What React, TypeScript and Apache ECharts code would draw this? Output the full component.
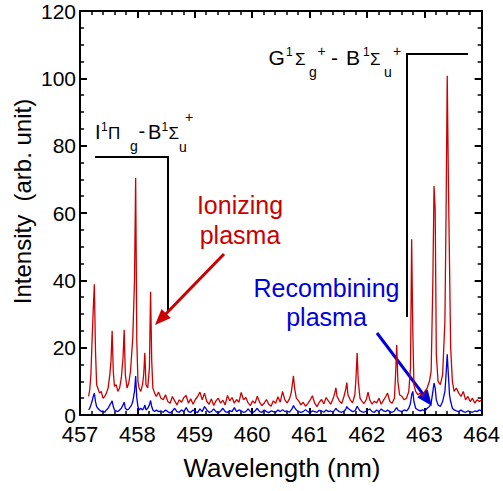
import React, { useEffect, useRef } from "react";
import * as echarts from "echarts";

// Wavelength grid (nm)
const wavelength = [
  // 457.15 - 458.30
  457.15, 457.17, 457.19, 457.21, 457.23, 457.25, 457.27, 457.29, 457.31, 457.34,
  457.37, 457.40, 457.43, 457.46, 457.49, 457.52, 457.54, 457.56, 457.58, 457.60,
  457.63, 457.66, 457.69, 457.72, 457.75, 457.77, 457.79, 457.82, 457.85, 457.88,
  457.90, 457.92, 457.95, 457.97, 457.99, 458.01, 458.03, 458.06, 458.09, 458.11,
  458.13, 458.15, 458.18, 458.21, 458.23, 458.25, 458.27, 458.30,
  // 458.33 - 460.65
  458.33, 458.37, 458.41, 458.45, 458.49, 458.53, 458.57, 458.61, 458.65, 458.69,
  458.73, 458.77, 458.81, 458.85, 458.89, 458.93, 458.97, 459.01, 459.05, 459.09,
  459.13, 459.17, 459.21, 459.25, 459.29, 459.33, 459.37, 459.41, 459.45, 459.49,
  459.53, 459.57, 459.61, 459.65, 459.69, 459.73, 459.77, 459.81, 459.85, 459.89,
  459.93, 459.97, 460.01, 460.05, 460.09, 460.13, 460.17, 460.21, 460.25, 460.29,
  460.33, 460.37, 460.41, 460.45, 460.49, 460.53, 460.57, 460.61, 460.65,
  // 460.68 - 462.48
  460.68, 460.70, 460.72, 460.74, 460.77, 460.81, 460.85, 460.89, 460.93, 460.97,
  461.01, 461.05, 461.09, 461.13, 461.17, 461.21, 461.25, 461.29, 461.33, 461.37,
  461.41, 461.44, 461.46, 461.48, 461.52, 461.56, 461.60, 461.63, 461.65, 461.67,
  461.71, 461.75, 461.79, 461.81, 461.83, 461.85, 461.88, 461.91, 461.95, 461.99,
  462.02, 462.05, 462.09, 462.13, 462.17, 462.21, 462.25, 462.29, 462.33, 462.36,
  462.40, 462.44, 462.48,
  // 462.50 - 464.00
  462.50, 462.52, 462.54, 462.57, 462.61, 462.65, 462.69, 462.73, 462.76, 462.78,
  462.80, 462.82, 462.85, 462.89, 462.93, 462.97, 463.01, 463.05, 463.09, 463.12,
  463.15, 463.17, 463.19, 463.21, 463.24, 463.28, 463.32, 463.36, 463.38, 463.40,
  463.42, 463.44, 463.46, 463.49, 463.52, 463.56, 463.60, 463.64, 463.68, 463.72,
  463.76, 463.80, 463.84, 463.88, 463.92, 463.96, 464.00,
];

// Ionizing plasma intensity (arb. unit)
const ionizing = [
  5.5, 7.5, 12, 22, 31, 38.8, 19, 9, 8, 6.5,
  7, 5, 5.5, 6.5, 8, 12, 16, 25, 13, 8.5,
  9, 7, 8, 11, 17, 25.3, 12, 8, 9.5, 13,
  18, 23, 40, 70.4, 22, 10, 8, 7, 9, 12,
  18.5, 9, 8, 14, 36.6, 16, 8, 6.5,
  5.5, 6.8, 5, 4.5, 6, 4, 3.5, 5.5, 4.2, 3,
  4.5, 3.8, 5.2, 5.8, 3.5, 4.8, 3.2, 4.6, 5.5, 6.8,
  4.5, 6.5, 4, 3.2, 4.8, 2.8, 4.2, 5, 3.5, 4.4,
  3, 5.8, 4.2, 5.2, 3.5, 4.6, 3.8, 6.7, 4.5, 5.2,
  3.6, 2.8, 4.2, 3.5, 5.6, 3.8, 2.8, 3.5, 4.6, 3.2,
  2.6, 4.2, 3.5, 5.4, 3.8, 7, 4.5, 3.6, 4.8,
  6.5, 9, 11.6, 8, 5, 4.2, 3, 3.8, 2.6, 3.4,
  4.4, 5.7, 3.5, 2.5, 3.8, 4.6, 3.3, 5.2, 4.1, 3.2,
  4.8, 6.5, 8.1, 5.5, 4.2, 3.4, 5.5, 7.5, 9.6, 6,
  4.5, 3.6, 6, 11, 18.4, 10, 5, 4.2, 3.4, 4.6,
  6.8, 4.5, 3.2, 4.1, 3.6, 5, 3.2, 4.4, 5.5, 6.5,
  4, 3.5, 5,
  12, 20.8, 10, 6, 5.5, 4.5, 5, 7, 14, 52.2,
  25, 9, 7, 6, 6.5, 5.5, 7, 8, 10, 13,
  40, 68, 61, 18, 10, 9, 12, 28, 60, 100.8,
  70, 45, 20, 10, 7, 8, 6.5, 5.5, 7, 4.5,
  5.5, 4, 5, 3.5, 4.5, 4, 4.5,
];

// Recombining plasma intensity (arb. unit)
const recombining = [
  1.5, 2, 3, 4, 5.5, 6.5, 4, 2.5, 2, 1.5,
  1, 1.2, 0.8, 1.5, 2, 3, 3.5, 4.2, 2.5, 1.5,
  1.2, 1, 1.5, 2, 3, 3.8, 2, 1.5, 1.8, 2.5,
  3, 4, 7, 11.6, 5, 2.5, 1.5, 2, 1.5, 2,
  3, 1.5, 2, 3, 4.3, 2.5, 1.5, 1,
  1.5, 1, 1.2, 0.8, 1.5, 1, 0.6, 1.2, 2, 1,
  0.8, 1.5, 1, 2.2, 1, 0.8, 1.5, 1, 0.7, 1.8,
  1, 2.5, 1.5, 0.8, 1, 1.8, 1, 0.6, 1.2, 2,
  1, 0.8, 1.3, 1, 2.2, 1, 1.5, 1.2, 0.8, 1,
  1.8, 1, 0.7, 1.2, 2, 1, 0.8, 1.5, 1, 0.7,
  1.2, 1, 0.8, 1.5, 1, 1.6, 1, 1.2, 0.8,
  1.5, 2, 2.8, 2.2, 1.5, 1, 0.8, 1, 1.6, 1,
  0.7, 1.2, 1, 0.8, 1.4, 1.2, 0.8, 1.5, 1, 1.2,
  0.8, 1.5, 2, 1.5, 1, 0.8, 1.2, 1.6, 2.5, 2,
  1.5, 1, 1.2, 1.8, 2.6, 2, 1.2, 1, 0.8, 1.2,
  1.5, 1.8, 1, 0.8, 1.5, 1, 1.8, 1.2, 1, 1.5,
  1, 0.8, 1.2,
  1.8, 2.2, 1.5, 1.2, 1, 1.5, 1.2, 2, 3.5, 6,
  7, 4, 2, 1.5, 1.2, 1.5, 1.2, 2, 2.5, 3.5,
  7, 9.5, 8, 4.5, 3, 2.5, 4, 7, 12, 18,
  12, 6, 4, 2, 1.5, 1.2, 1, 1.5, 1, 0.8,
  1.2, 1, 0.8, 1.2, 1, 1.5, 1.2,
];

const xRange = [457, 464];
const yRange = [0, 120];

const FONT = "'Liberation Sans', Arial, Helvetica, sans-serif";
const RED = "#cc0000";
const BLUE = "#0000dd";

function txt(text: string, x: number, y: number, size: number, color = "#000", align = "left", extra: any = {}) {
  return {
    type: "text",
    x,
    y,
    silent: true,
    ...extra,
    style: {
      text,
      fontSize: size,
      fontFamily: FONT,
      fill: color,
      align,
      textAlign: align,
      verticalAlign: "middle",
      textVerticalAlign: "middle",
    },
  };
}

function arrow(x1: number, y1: number, x2: number, y2: number, color: string) {
  const dx = x2 - x1;
  const dy = y2 - y1;
  const L = Math.hypot(dx, dy);
  const ux = dx / L;
  const uy = dy / L;
  const head = 16;
  const hw = 6.5;
  const bx = x2 - ux * head;
  const by = y2 - uy * head;
  return [
    {
      type: "line",
      silent: true,
      shape: { x1, y1, x2: bx + ux * 3, y2: by + uy * 3 },
      style: { stroke: color, lineWidth: 3 },
    },
    {
      type: "polygon",
      silent: true,
      shape: {
        points: [
          [x2, y2],
          [bx - uy * hw, by + ux * hw],
          [bx + uy * hw, by - ux * hw],
        ],
      },
      style: { fill: color },
    },
  ];
}

export default function App() {
  const ref = useRef<HTMLDivElement>(null);

  useEffect(() => {
    if (!ref.current) return;
    const chart = echarts.init(ref.current, undefined, { renderer: "svg" });

    const axisCommon = {
      type: "value",
      splitLine: { show: false },
      axisLine: { show: true, onZero: false, lineStyle: { color: "#000", width: 2 } },
      axisTick: { show: true, inside: true, length: 7, lineStyle: { color: "#000", width: 2 } },
    };

    const option: any = {
      animation: false,
      backgroundColor: "#fff",
      grid: { left: 80, right: 19, top: 11, bottom: 76, containLabel: false },
      xAxis: [
        {
          ...axisCommon,
          position: "bottom",
          min: xRange[0],
          max: xRange[1],
          interval: 1,
          minorTick: { show: true, splitNumber: 5, length: 4, lineStyle: { color: "#000", width: 1.5 } },
          axisLabel: { fontSize: 22, fontFamily: FONT, color: "#000", margin: 8 },
        },
        {
          ...axisCommon,
          position: "top",
          min: xRange[0],
          max: xRange[1],
          interval: 1,
          minorTick: { show: true, splitNumber: 5, length: 4, lineStyle: { color: "#000", width: 1.5 } },
          axisLabel: { show: false },
        },
      ],
      yAxis: [
        {
          ...axisCommon,
          position: "left",
          min: yRange[0],
          max: yRange[1],
          interval: 20,
          minorTick: { show: true, splitNumber: 4, length: 4, lineStyle: { color: "#000", width: 1.5 } },
          axisLabel: { fontSize: 21, fontFamily: FONT, color: "#000", margin: 4 },
        },
        {
          ...axisCommon,
          position: "right",
          min: yRange[0],
          max: yRange[1],
          interval: 20,
          minorTick: { show: true, splitNumber: 4, length: 4, lineStyle: { color: "#000", width: 1.5 } },
          axisLabel: { show: false },
        },
      ],
      series: [
        {
          name: "Ionizing plasma",
          type: "line",
          xAxisIndex: 0,
          yAxisIndex: 0,
          showSymbol: false,
          symbol: "none",
          lineStyle: { color: RED, width: 1.3 },
          data: wavelength.map((w, i) => [w, ionizing[i]]),
        },
        {
          name: "Recombining plasma",
          type: "line",
          xAxisIndex: 0,
          yAxisIndex: 0,
          showSymbol: false,
          symbol: "none",
          lineStyle: { color: BLUE, width: 1.3 },
          data: wavelength.map((w, i) => [w, recombining[i]]),
        },
      ],
      graphic: [
        // axis titles
        txt("Wavelength (nm)", 282, 468, 26, "#000", "center"),
        txt("Intensity  (arb. unit)", 22, 201.5, 24, "#000", "center", { rotation: Math.PI / 2 }),
        // brackets
        {
          type: "polyline",
          silent: true,
          shape: { points: [[95, 157], [168, 157], [168, 312]] },
          style: { stroke: "#000", lineWidth: 2, fill: "none" },
        },
        {
          type: "polyline",
          silent: true,
          shape: { points: [[407, 317], [407, 54], [468, 54]] },
          style: { stroke: "#000", lineWidth: 2, fill: "none" },
        },
        // I1Πg - B1Σu+
        txt("I", 95, 131.5, 20),
        txt("1", 101, 127, 12),
        txt("Π", 108, 133, 17),
        txt("g", 130, 146, 14),
        txt("-", 138.5, 131, 20),
        txt("B", 148, 131.5, 20),
        txt("1", 161.5, 127, 12),
        txt("Σ", 168.5, 133, 17),
        txt("u", 179, 147, 14),
        txt("+", 185, 117, 14),
        // G1Σg+ - B1Σu+
        txt("G", 268.5, 57.5, 21),
        txt("1", 286, 52, 12),
        txt("Σ", 295, 59, 17),
        txt("g", 309, 72, 14),
        txt("+", 317.5, 51, 14),
        txt("-", 331, 57, 21),
        txt("B", 346, 57.5, 21),
        txt("1", 363, 52, 12),
        txt("Σ", 370, 59, 17),
        txt("u", 384, 72, 14),
        txt("+", 393, 51, 14),
        // plasma labels
        txt("Ionizing", 240, 205, 25, RED, "center"),
        txt("plasma", 240, 235, 25, RED, "center"),
        txt("Recombining", 326.5, 288, 25, BLUE, "center"),
        txt("plasma", 326.5, 317, 25, BLUE, "center"),
        ...arrow(224, 254, 155, 325, RED),
        ...arrow(377, 333, 432, 406, BLUE),
      ],
    };

    chart.setOption(option);
    return () => chart.dispose();
  }, []);

  return (
    <div
      ref={ref}
      style={{ position: "fixed", left: 0, top: 0, width: 503, height: 491 }}
    />
  );
}
